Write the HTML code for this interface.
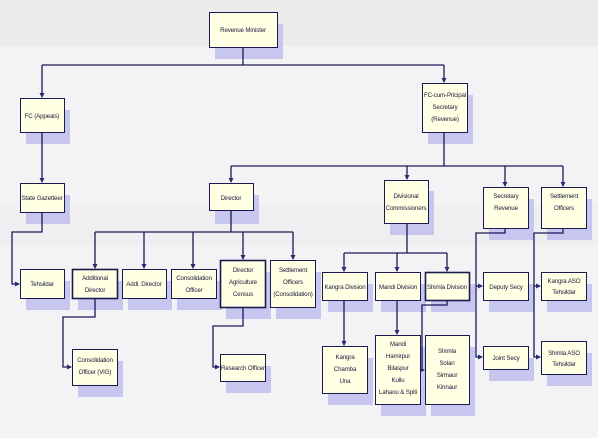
<!DOCTYPE html>
<html><head><style>
html,body{margin:0;padding:0;background:#fff;}
svg{display:block;}
text{font-family:"Liberation Sans",sans-serif;font-size:6.2px;letter-spacing:-0.15px;fill:#1a1a3a;text-anchor:middle;}
</style></head><body>
<svg width="603" height="444" viewBox="0 0 603 444" xmlns="http://www.w3.org/2000/svg">
<defs>
<marker id="a" markerWidth="5" markerHeight="5" refX="4" refY="2.5" orient="auto" markerUnits="userSpaceOnUse"><path d="M0,0 L5,2.5 L0,5 z" fill="#2a2a70"/></marker>
</defs>
<rect x="0" y="0" width="598" height="438" fill="#f3f3f5"/>
<rect x="0" y="0" width="598" height="46" fill="#ebebeb"/>
<rect x="0" y="205" width="598" height="40" fill="#efeff1"/>
<g id="shadows" fill="#c6c6ef">
<rect x="215" y="24" width="68" height="35"/>
<rect x="26" y="110" width="44" height="34"/>
<rect x="428" y="95" width="45" height="49"/>
<rect x="26" y="195" width="44" height="29"/>
<rect x="215" y="195" width="44" height="29"/>
<rect x="390" y="191" width="44" height="44"/>
<rect x="489" y="199" width="45" height="41"/>
<rect x="547" y="199" width="45" height="41"/>
<rect x="26" y="281" width="44" height="29"/>
<rect x="78" y="281" width="45" height="29"/>
<rect x="128" y="281" width="44" height="29"/>
<rect x="177" y="281" width="45" height="29"/>
<rect x="226" y="272" width="45" height="47"/>
<rect x="276" y="272" width="45" height="47"/>
<rect x="78" y="361" width="45" height="36"/>
<rect x="226" y="366" width="45" height="27"/>
<rect x="328" y="284" width="45" height="28"/>
<rect x="381" y="284" width="45" height="28"/>
<rect x="431" y="284" width="44" height="28"/>
<rect x="489" y="284" width="45" height="28"/>
<rect x="547" y="284" width="45" height="28"/>
<rect x="328" y="358" width="45" height="47"/>
<rect x="381" y="347" width="45" height="69"/>
<rect x="431" y="347" width="44" height="69"/>
<rect x="489" y="358" width="45" height="23"/>
<rect x="547" y="353" width="45" height="33"/>
</g>
<g stroke="#1a1a5a" stroke-width="1.3" fill="none">
<path d="M243,47 V65"/>
<path d="M42,65 H444"/>
<path d="M42,65 V97" marker-end="url(#a)"/>
<path d="M444,65 V82" marker-end="url(#a)"/>
<path d="M42,132 V182" marker-end="url(#a)"/>
<path d="M444,132 V166 M231,166 H563"/>
<path d="M231,166 V182" marker-end="url(#a)"/>
<path d="M407,166 V179" marker-end="url(#a)"/>
<path d="M505,166 V186" marker-end="url(#a)"/>
<path d="M563,166 V186" marker-end="url(#a)"/>
<path d="M42,212 V232 H12 V284 H19" marker-end="url(#a)"/>
<path d="M231,210 V232 M95,232 H293"/>
<path d="M95,232 V268" marker-end="url(#a)"/>
<path d="M144,232 V268" marker-end="url(#a)"/>
<path d="M193,232 V268" marker-end="url(#a)"/>
<path d="M243,232 V259" marker-end="url(#a)"/>
<path d="M293,232 V259" marker-end="url(#a)"/>
<path d="M95,298 V317 H63 V367 H71" marker-end="url(#a)"/>
<path d="M243,307 V326 H213 V367 H219" marker-end="url(#a)"/>
<path d="M407,223 V253 M344,253 H447"/>
<path d="M344,253 V271" marker-end="url(#a)"/>
<path d="M397,253 V271" marker-end="url(#a)"/>
<path d="M447,253 V271" marker-end="url(#a)"/>
<path d="M344,300 V345" marker-end="url(#a)"/>
<path d="M397,300 V334" marker-end="url(#a)"/>
<path d="M447,300 V305 H422 V370 H424" marker-end="url(#a)"/>
<path d="M505,228 V233 H476 V357 H482" marker-end="url(#a)"/>
<path d="M476,286 H482" marker-end="url(#a)"/>
<path d="M563,228 V233 H534 V357 H540" marker-end="url(#a)"/>
<path d="M534,286 H540" marker-end="url(#a)"/>
</g>
<g fill="#ffffe4" stroke="#1a1a50" stroke-width="1">
<rect x="209.5" y="12.5" width="68" height="35"/>
<rect x="20.5" y="98.5" width="44" height="34"/>
<rect x="422.5" y="83.5" width="45" height="49"/>
<rect x="20.5" y="183.5" width="44" height="29"/>
<rect x="209.5" y="183.5" width="44" height="27"/>
<rect x="384.5" y="180.5" width="44" height="43"/>
<rect x="483.5" y="187.5" width="45" height="41"/>
<rect x="541.5" y="187.5" width="45" height="41"/>
<rect x="20.5" y="269.5" width="44" height="29"/>
<rect x="72.5" y="269.5" width="45" height="29" stroke-width="1.6"/>
<rect x="122.5" y="269.5" width="44" height="29"/>
<rect x="171.5" y="269.5" width="45" height="29"/>
<rect x="220.5" y="260.5" width="45" height="47" stroke-width="1.6"/>
<rect x="270.5" y="260.5" width="45" height="47"/>
<rect x="72.5" y="349.5" width="45" height="36"/>
<rect x="220.5" y="354.5" width="45" height="27"/>
<rect x="322.5" y="272.5" width="45" height="28"/>
<rect x="375.5" y="272.5" width="45" height="28"/>
<rect x="425.5" y="272.5" width="44" height="28" stroke-width="1.6"/>
<rect x="483.5" y="272.5" width="45" height="28"/>
<rect x="541.5" y="272.5" width="45" height="28"/>
<rect x="322.5" y="346.5" width="45" height="47"/>
<rect x="375.5" y="335.5" width="45" height="69"/>
<rect x="425.5" y="335.5" width="44" height="69"/>
<rect x="483.5" y="346.5" width="45" height="23"/>
<rect x="541.5" y="341.5" width="45" height="33"/>
</g>
<g>
<text x="243" y="32">Revenue Minister</text>
<text x="42" y="118">FC (Appeals)</text>
<text x="445" y="97">FC-cum-Pricipal</text>
<text x="445" y="109">Secretary</text>
<text x="445" y="121">(Revenue)</text>
<text x="42" y="200">State Gazetteer</text>
<text x="231" y="200">Director</text>
<text x="406" y="198">Divisional</text>
<text x="406" y="210">Commissioners</text>
<text x="506" y="198">Secretary</text>
<text x="506" y="210">Revenue</text>
<text x="564" y="198">Settlement</text>
<text x="564" y="210">Officers</text>
<text x="42" y="286">Tehsildar</text>
<text x="95" y="280">Additional</text>
<text x="95" y="292">Director</text>
<text x="144" y="286">Addl. Director</text>
<text x="194" y="280">Consolidation</text>
<text x="194" y="292">Officer</text>
<text x="243" y="272">Director</text>
<text x="243" y="284">Agriculture</text>
<text x="243" y="296">Census</text>
<text x="293" y="272">Settlement</text>
<text x="293" y="284">Officers</text>
<text x="293" y="296">(Consolidation)</text>
<text x="95" y="362">Consolidation</text>
<text x="95" y="374">Officer (VIG)</text>
<text x="243" y="370">Research Officer</text>
<text x="345" y="289">Kangra Division</text>
<text x="398" y="289">Mandi Division</text>
<text x="447" y="289">Shimla Division</text>
<text x="506" y="289">Deputy Secy</text>
<text x="564" y="283">Kangra ASO</text>
<text x="564" y="294">Tehsildar</text>
<text x="345" y="359">Kangra</text>
<text x="345" y="371">Chamba</text>
<text x="345" y="383">Una</text>
<text x="398" y="346">Mandi</text>
<text x="398" y="358">Hamirpur</text>
<text x="398" y="370">Bilaspur</text>
<text x="398" y="382">Kullu</text>
<text x="398" y="394">Lahaou &amp; Spiti</text>
<text x="447" y="353">Shimla</text>
<text x="447" y="365">Solan</text>
<text x="447" y="377">Sirmaur</text>
<text x="447" y="389">Kinnaur</text>
<text x="506" y="360">Joint Secy</text>
<text x="564" y="355">Shimla ASO</text>
<text x="564" y="366">Tehsildar</text>
</g>
</svg>
</body></html>
